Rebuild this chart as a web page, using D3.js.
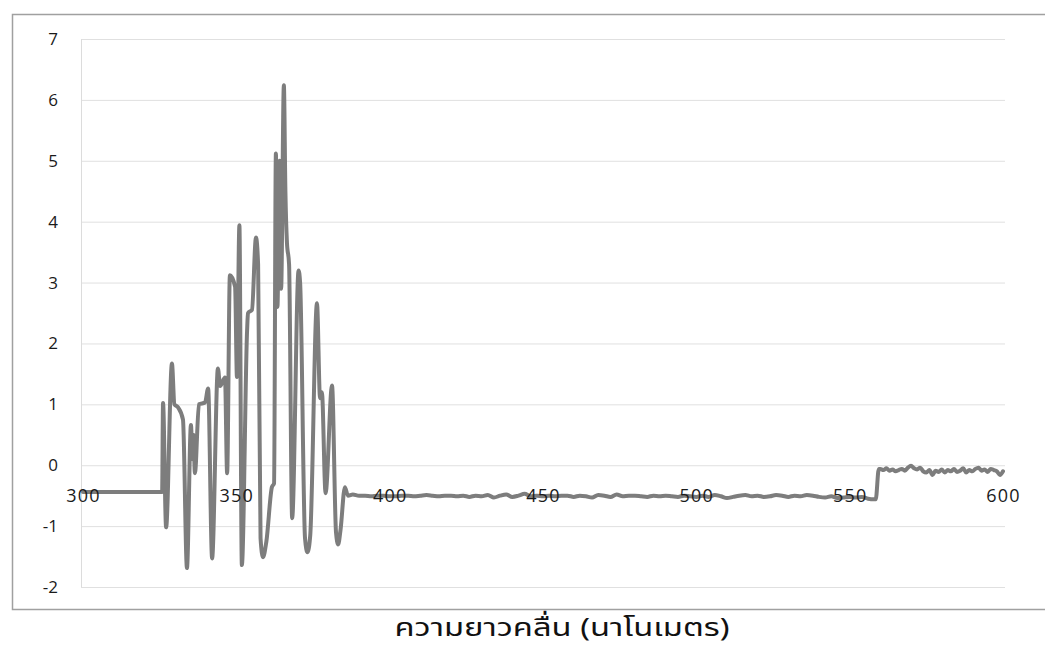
<!DOCTYPE html>
<html>
<head>
<meta charset="utf-8">
<script src="https://cdn.jsdelivr.net/npm/d3@7"></script>
<style>
  html, body { margin: 0; padding: 0; background: #fff; }
  svg { display: block; }
</style>
</head>
<body>
<svg id="chart" width="1045" height="648"></svg>
<script>
// ---- data ----
const wavelength = [
  300, 305, 310, 315, 320, 325, 325.8,
  326.1, 327.1, 329.0, 329.8, 331.0, 332.6, 333.9, 335.2, 335.7, 336.0, 336.5,
  337.8, 339.8, 340.8, 342.1, 344.0, 344.7, 346.3, 347.0, 347.9, 349.6, 350.2,
  351.0, 351.8, 353.5, 353.8, 355.1, 356.4, 357.1, 357.9, 358.7, 359.8, 361.6, 362.3, 362.9,
  363.4, 364.1, 364.6, 365.5, 366.0, 366.5, 367.2, 368.2, 370.3, 370.8, 372.4, 373.2, 374.1,
  376.3, 377.3, 377.9, 379.1, 381.2, 382.5, 383.2, 384.0, 385.4, 386.4,
  388, 390, 392, 394, 396, 398, 400,
  402, 404, 406, 408, 410, 412, 414, 416, 418, 420, 422, 424, 426, 428, 430,
  432, 434, 436, 438, 440, 442, 444, 446, 448, 450,
  452, 454, 456, 458, 460, 462, 464, 466, 468, 470, 472, 474, 476, 478, 480,
  482, 484, 486, 488, 490, 492, 494, 496, 498, 500,
  502, 504, 506, 508, 510, 512, 514, 516, 518, 520, 522, 524, 526, 528, 530,
  532, 534, 536, 538, 540, 542, 544, 546, 548, 550, 552, 554, 556, 558,
  558.5, 559.5,
  560, 561, 562, 563, 564, 565, 566, 567, 568, 569, 570, 571, 572, 573, 574,
  575, 576, 577, 578, 579, 580, 581, 582, 583, 584, 585, 586, 587, 588, 589,
  590, 591, 592, 593, 594, 595, 596, 597, 598, 599, 600
];
const signal = [
  -0.44, -0.44, -0.44, -0.44, -0.44, -0.44, -0.44,
  1.02, -1.02, 1.67, 1.00, 0.95, 0.75, -1.69, 0.66, 0.10, 0.50, -0.13,
  1.00, 1.03, 1.26, -1.53, 1.59, 1.30, 1.44, -0.13, 3.12, 2.93, 1.45,
  3.94, -1.64, 2.20, 2.50, 2.55, 3.74, 3.30, -1.20, -1.51, -1.25, -0.36, -0.30, 5.12,
  2.60, 5.00, 2.90, 6.24, 4.50, 3.66, 3.30, -0.87, 3.20, 3.00, -1.20, -1.43, -1.15,
  2.66, 1.10, 1.20, -0.46, 1.31, -1.10, -1.30, -1.05, -0.36, -0.50,
  -0.48, -0.50, -0.50, -0.51, -0.50, -0.50, -0.51,
  -0.51, -0.50, -0.50, -0.51, -0.50, -0.49, -0.50, -0.51, -0.50, -0.50, -0.51, -0.50, -0.52, -0.50, -0.51,
  -0.49, -0.53, -0.50, -0.48, -0.52, -0.50, -0.47, -0.51, -0.50, -0.51,
  -0.50, -0.51, -0.50, -0.50, -0.52, -0.50, -0.51, -0.53, -0.49, -0.50, -0.52, -0.48, -0.51, -0.50, -0.50,
  -0.51, -0.52, -0.50, -0.51, -0.50, -0.51, -0.52, -0.50, -0.51, -0.52,
  -0.50, -0.52, -0.49, -0.51, -0.54, -0.52, -0.50, -0.49, -0.51, -0.50, -0.52, -0.51, -0.49, -0.50, -0.52,
  -0.50, -0.51, -0.49, -0.50, -0.52, -0.53, -0.51, -0.54, -0.53, -0.52, -0.53, -0.52, -0.55, -0.56,
  -0.56, -0.06,
  -0.06, -0.08, -0.05, -0.09, -0.07, -0.10, -0.08, -0.06, -0.09, -0.04, -0.01, -0.05, -0.07, -0.04, -0.10,
  -0.12, -0.08, -0.16, -0.09, -0.11, -0.07, -0.12, -0.08, -0.10, -0.06, -0.11, -0.09, -0.05, -0.12, -0.08,
  -0.10, -0.06, -0.04, -0.09, -0.07, -0.11, -0.06, -0.08, -0.10, -0.16, -0.10
];
const xTicks = [300, 350, 400, 450, 500, 550, 600];
const yTicks = [-2, -1, 0, 1, 2, 3, 4, 5, 6, 7];
const xTitle = "ความยาวคลื่น (นาโนเมตร)";

// ---- drawing ----
const svg = d3.select("#chart");
const x = d3.scaleLinear().domain([300, 600]).range([83, 1003]);
const y = d3.scaleLinear().domain([-2, 7]).range([587, 39]);
const labelFont = "'Open Sans', sans-serif";

// chart frame
svg.append("path")
  .attr("d", "M1050,14.5 H12.5 V609.5 H1050")
  .attr("fill", "none").attr("stroke", "#a0a0a0").attr("stroke-width", 1.5);

// gridlines
svg.append("g").selectAll("line").data(yTicks).join("line")
  .attr("x1", 81).attr("x2", 1005)
  .attr("y1", d => y(d) + 0.5).attr("y2", d => y(d) + 0.5)
  .attr("stroke", "#e0e0e0").attr("stroke-width", 1);

// vertical axis line
svg.append("line")
  .attr("x1", 81.5).attr("x2", 81.5).attr("y1", y(7)).attr("y2", y(-2))
  .attr("stroke", "#dcdcdc").attr("stroke-width", 1);

// y axis
const yAxis = svg.append("g").attr("transform", "translate(81,0)")
  .call(d3.axisLeft(y).tickValues(yTicks).tickSize(0).tickPadding(23).tickFormat(d => String(d)));
yAxis.select(".domain").remove();
yAxis.selectAll("text").attr("font-family", labelFont).attr("font-size", 17).attr("fill", "#1a1a1a");

// data line
const line = d3.line().x((d, i) => x(wavelength[i])).y(d => y(d)).curve(d3.curveMonotoneX);
svg.append("path").datum(signal)
  .attr("d", line)
  .attr("fill", "none").attr("stroke", "#7d7d7d").attr("stroke-width", 4)
  .attr("stroke-linejoin", "round").attr("stroke-linecap", "round");

// x axis (labels crossing at 0)
const xAxis = svg.append("g").attr("transform", `translate(0,${y(0)})`)
  .call(d3.axisBottom(x).tickValues(xTicks).tickSize(0).tickPadding(24).tickFormat(d => String(d)));
xAxis.select(".domain").remove();
xAxis.selectAll("text").attr("font-family", labelFont).attr("font-size", 18)
  .attr("letter-spacing", 1.2).attr("fill", "#1a1a1a");

// axis title
svg.append("text")
  .attr("x", 562).attr("y", 636)
  .attr("text-anchor", "middle")
  .attr("font-family", "'Noto Sans Thai', 'Noto Sans', 'DejaVu Sans', sans-serif")
  .attr("font-size", 25).attr("fill", "#111")
  .attr("textLength", 335).attr("lengthAdjust", "spacingAndGlyphs")
  .text(xTitle);
</script>
</body>
</html>
